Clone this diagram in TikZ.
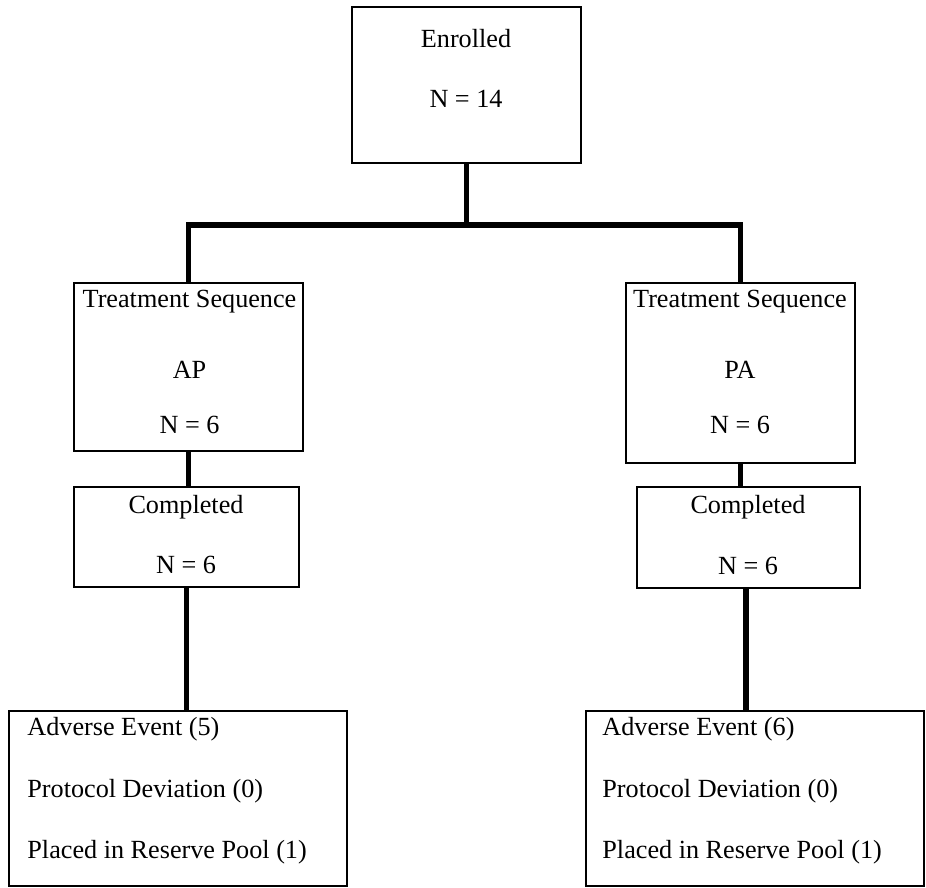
\documentclass[tikz,border=0pt]{standalone}
\usepackage{fontspec}
\setmainfont{Liberation Serif}
\begin{document}
\begin{tikzpicture}[x=0.5pt,y=-0.5pt,
  box/.style={draw=black,line width=1pt,inner sep=0pt,outer sep=0pt,fill=white},
  conn/.style={draw=black,line width=2.6pt,line join=miter},
  lbl/.style={inner sep=0pt,anchor=base,font=\fontsize{13.1}{15}\selectfont},
  lbll/.style={inner sep=0pt,anchor=base west,font=\fontsize{13.1}{15}\selectfont}]
\useasboundingbox (0,0) rectangle (926,888);
% boxes
\node[box,minimum width=114.5pt,minimum height=78pt] (enr) at (466.5,85) {};
\node[box,minimum width=114.5pt,minimum height=84pt] (tsA) at (188.5,367) {};
\node[box,minimum width=114.5pt,minimum height=90pt] (tsP) at (740.5,373) {};
\node[box,minimum width=112.5pt,minimum height=50pt] (cA) at (186.5,537) {};
\node[box,minimum width=111.5pt,minimum height=50.5pt] (cP) at (748.5,537.5) {};
\node[box,minimum width=169pt,minimum height=87.5pt] (aeA) at (178,798.5) {};
\node[box,minimum width=169pt,minimum height=87.5pt] (aeP) at (755,798.5) {};
% connectors
\coordinate (hub) at (466.5,225);
\draw[conn] (enr.south) -- (hub);
\draw[conn] (tsA.north) |- (hub) -| (tsP.north);
\draw[conn] (tsA.south) -- (tsA.south |- cA.north);
\draw[conn] (tsP.south) -- (tsP.south |- cP.north);
\draw[conn] (cA.south) -- (cA.south |- aeA.north);
\draw[conn] (cP.south -| 746,0) -- (746,0 |- aeP.north);
% texts
\node[lbl] (t1) at (466,48) {Enrolled};
\node[lbl] (t2) at (466,108) {N = 14};
\node[lbl] (t3) at (189.5,307) {Treatment Sequence};
\node[lbl] (t4) at (189.5,378) {AP};
\node[lbl] (t5) at (189.5,433) {N = 6};
\node[lbl] (t6) at (740,307) {Treatment Sequence};
\node[lbl] (t7) at (740,378) {PA};
\node[lbl] (t8) at (740,433) {N = 6};
\node[lbl] (t9) at (186,513) {Completed};
\node[lbl] (t10) at (186,573) {N = 6};
\node[lbl] (t11) at (748,513) {Completed};
\node[lbl] (t12) at (748,574) {N = 6};
\node[lbll] (t13) at (27,735) {Adverse Event (5)};
\node[lbll] (t14) at (27,797) {Protocol Deviation (0)};
\node[lbll] (t15) at (27,858) {Placed in Reserve Pool (1)};
\node[lbll] (t16) at (602,735) {Adverse Event (6)};
\node[lbll] (t17) at (602,797) {Protocol Deviation (0)};
\node[lbll] (t18) at (602,858) {Placed in Reserve Pool (1)};
\end{tikzpicture}
\end{document}
